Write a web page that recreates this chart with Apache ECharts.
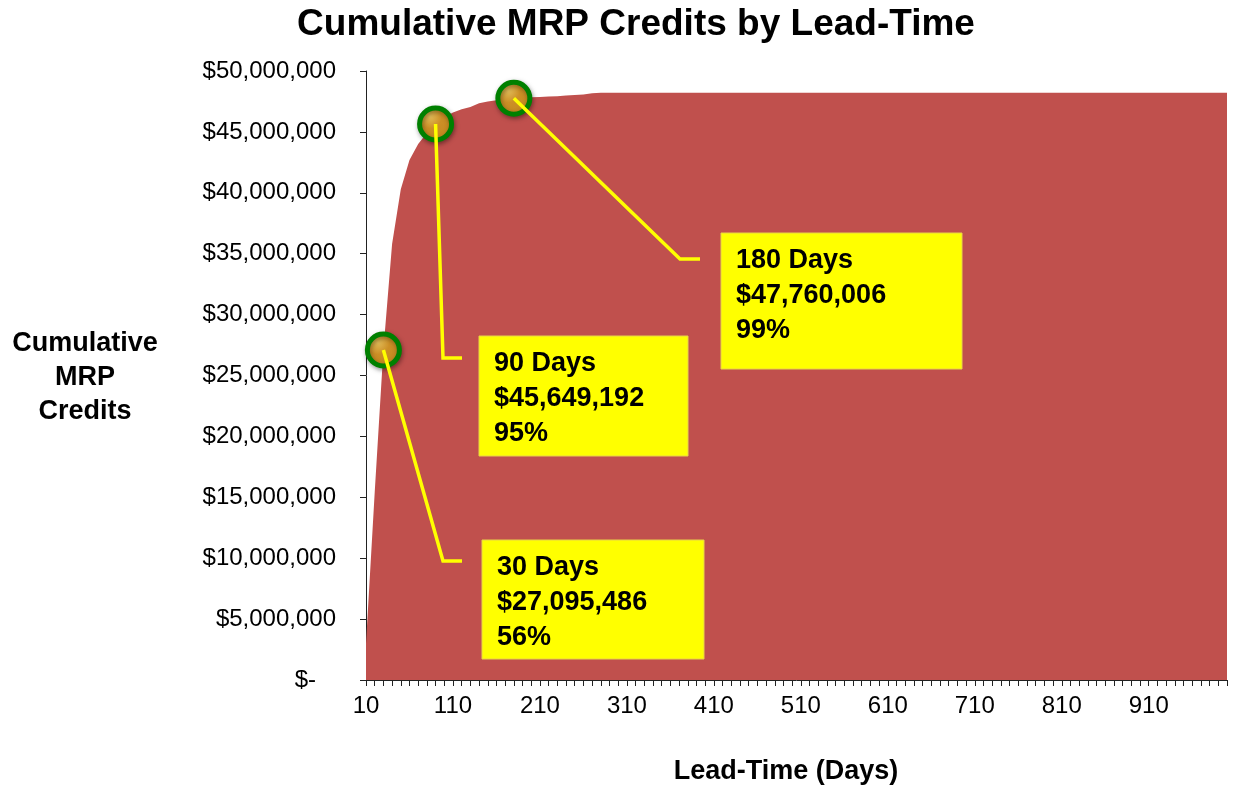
<!DOCTYPE html>
<html>
<head>
<meta charset="utf-8">
<script src="https://cdn.jsdelivr.net/npm/echarts@6/dist/echarts.min.js"></script>
<style>
  html, body { margin: 0; padding: 0; background: #fff; }
  #main { width: 1233px; height: 788px; }
</style>
</head>
<body>
<div id="main"></div>
<script>
// lead-time buckets (days)
const leadDays = [
  '10','20','30','40','50','60','70','80','90','100',
  '110','120','130','140','150','160','170','180','190','200',
  '210','220','230','240','250','260','270','280','290','300',
  '310','320','330','340','350','360','370','380','390','400',
  '410','420','430','440','450','460','470','480','490','500',
  '510','520','530','540','550','560','570','580','590','600',
  '610','620','630','640','650','660','670','680','690','700',
  '710','720','730','740','750','760','770','780','790','800',
  '810','820','830','840','850','860','870','880','890','900',
  '910','920','930','940','950','960','970','980','990','1000'
];
// cumulative credits ($)
const cumCredits = [
  3000000, 15400000, 27095486, 35800000, 40300000, 42700000, 44000000, 44900000, 45649192, 46200000,
  46600000, 46850000, 47050000, 47350000, 47500000, 47600000, 47700000, 47760006, 47800000, 47840000,
  47870000, 47900000, 47930000, 47980000, 48020000, 48080000, 48180000, 48220000, 48220000, 48220000,
  48220000, 48220000, 48220000, 48220000, 48220000, 48220000, 48220000, 48220000, 48220000, 48220000,
  48220000, 48220000, 48220000, 48220000, 48220000, 48220000, 48220000, 48220000, 48220000, 48220000,
  48220000, 48220000, 48220000, 48220000, 48220000, 48220000, 48220000, 48220000, 48220000, 48220000,
  48220000, 48220000, 48220000, 48220000, 48220000, 48220000, 48220000, 48220000, 48220000, 48220000,
  48220000, 48220000, 48220000, 48220000, 48220000, 48220000, 48220000, 48220000, 48220000, 48220000,
  48220000, 48220000, 48220000, 48220000, 48220000, 48220000, 48220000, 48220000, 48220000, 48220000,
  48220000, 48220000, 48220000, 48220000, 48220000, 48220000, 48220000, 48220000, 48220000, 48220000
];
// callouts
const calloutDays = ['30', '90', '180'];
const calloutValues = [27095486, 45649192, 47760006];
const calloutText = [
  '30 Days\n$27,095,486\n56%',
  '90 Days\n$45,649,192\n95%',
  '180 Days\n$47,760,006\n99%'
];

const FONT = '"Liberation Sans", Arial, sans-serif';
const myChart = echarts.init(document.getElementById('main'));

const fmtMoney = (v) => v === 0 ? '$-   ' : '$' + v.toLocaleString('en-US');

const option = {
  animation: false,
  backgroundColor: '#fff',
  grid: { left: 366, right: 6, top: 71, bottom: 108, containLabel: false },
  xAxis: {
    type: 'category',
    data: leadDays,
    boundaryGap: false,
    axisLine: { lineStyle: { color: '#222', width: 1 } },
    axisTick: { show: true, interval: 0, length: 6, lineStyle: { color: '#222' } },
    axisLabel: { interval: 9, margin: 14, fontSize: 24, color: '#000', fontFamily: FONT },
    splitLine: { show: false }
  },
  yAxis: {
    type: 'value',
    min: 0,
    max: 50000000,
    interval: 5000000,
    axisLine: { show: true, lineStyle: { color: '#222', width: 1 } },
    axisTick: { show: true, length: 6, lineStyle: { color: '#222' } },
    axisLabel: { margin: 30, fontSize: 24, color: '#000', fontFamily: FONT, formatter: fmtMoney },
    splitLine: { show: false }
  },
  series: [
    {
      type: 'line',
      data: cumCredits,
      showSymbol: false,
      lineStyle: { width: 0 },
      areaStyle: { color: '#C0504D', opacity: 1 },
      markPoint: {
        symbol: 'circle',
        symbolSize: 32,
        label: { show: false },
        itemStyle: {
          color: new echarts.graphic.RadialGradient(0.35, 0.3, 0.7, [
            { offset: 0, color: '#E2BC58' },
            { offset: 0.45, color: '#CC8F26' },
            { offset: 1, color: '#C4881F' }
          ]),
          borderColor: '#008000',
          borderWidth: 5,
          shadowBlur: 5,
          shadowColor: 'rgba(0,0,0,0.35)',
          shadowOffsetX: 1,
          shadowOffsetY: 2
        },
        data: calloutDays.map((d, i) => ({ coord: [d, calloutValues[i]] }))
      }
    }
  ]
};
myChart.setOption(option);

// annotation boxes and connectors
const boxes = [
  { x: 482, y: 540, w: 222, h: 119, elbow: [443, 561], end: [462, 561] },
  { x: 479, y: 336, w: 209, h: 120, elbow: [443, 358], end: [462, 358] },
  { x: 721, y: 233, w: 241, h: 136, elbow: [680, 259], end: [700, 259] }
];
const graphics = [];
boxes.forEach((b, i) => {
  const p = myChart.convertToPixel({ seriesIndex: 0 }, [calloutDays[i], calloutValues[i]]);
  graphics.push({
    type: 'polyline', z: 100,
    shape: { points: [p, b.elbow, b.end] },
    style: { stroke: '#FFFF00', lineWidth: 3.5, fill: null }
  });
  graphics.push({
    type: 'rect', z: 100,
    shape: { x: b.x, y: b.y, width: b.w, height: b.h },
    style: { fill: '#FFFF00', stroke: '#E8D24A', lineWidth: 1 }
  });
  graphics.push({
    type: 'text', z: 101,
    x: b.x + 15, y: b.y + 10,
    style: { text: calloutText[i], font: 'bold 27px ' + FONT, fill: '#000', lineHeight: 35 }
  });
});
graphics.push({
  type: 'text', x: 636, y: 6,
  style: { text: 'Cumulative MRP Credits by Lead-Time', font: 'bold 37px ' + FONT, fill: '#000', align: 'center' }
});
graphics.push({
  type: 'text', x: 85, y: 327,
  style: { text: 'Cumulative\nMRP\nCredits', font: 'bold 27px ' + FONT, fill: '#000', align: 'center', lineHeight: 34 }
});
graphics.push({
  type: 'text', x: 786, y: 758,
  style: { text: 'Lead-Time (Days)', font: 'bold 27px ' + FONT, fill: '#000', align: 'center' }
});
myChart.setOption({ graphic: graphics });
</script>
</body>
</html>
